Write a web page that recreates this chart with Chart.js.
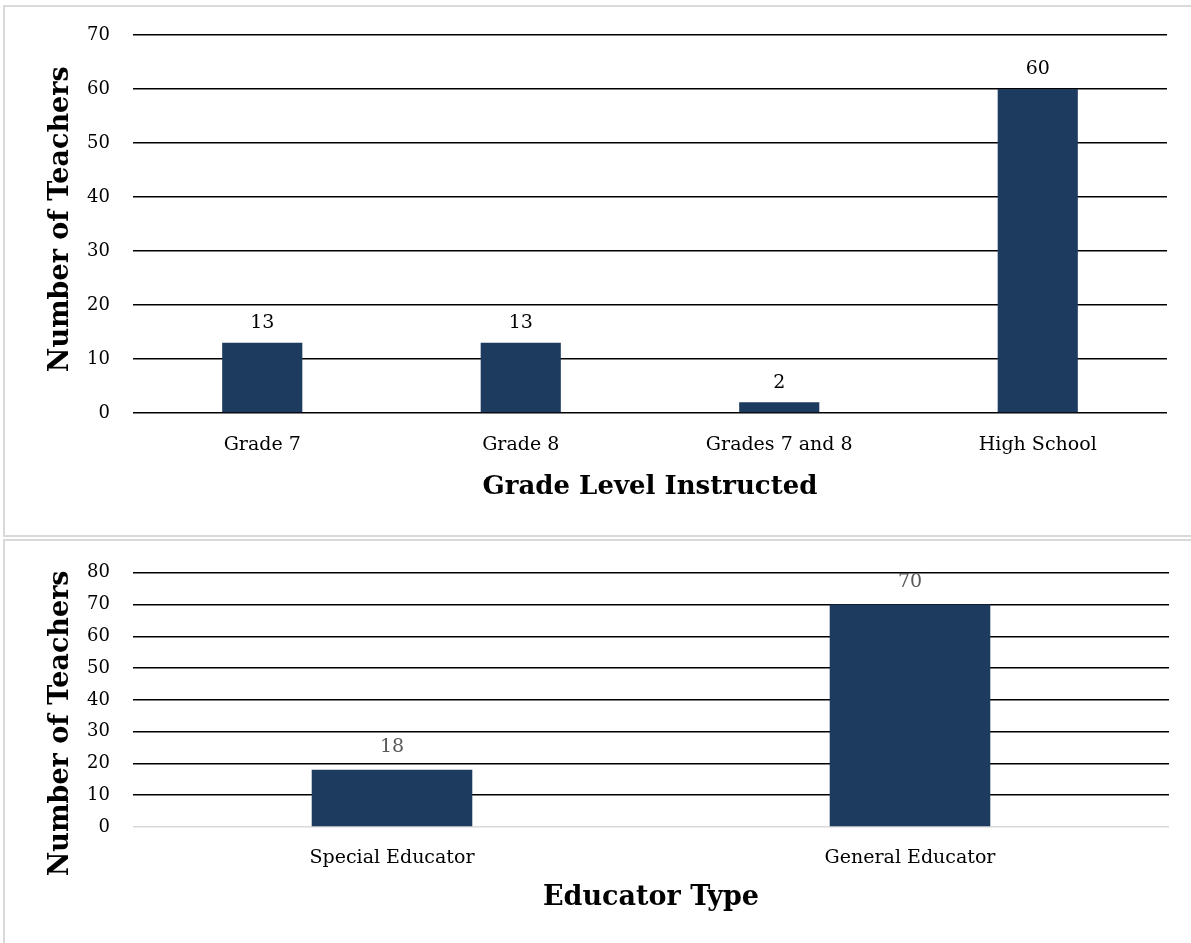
<!DOCTYPE html>
<html>
<head>
<meta charset="utf-8">
<script src="https://cdn.jsdelivr.net/npm/chart.js@4.4.1/dist/chart.umd.min.js"></script>
<style>
  body { margin: 0; background: #fff; width: 1191px; height: 943px; overflow: hidden; position: relative; }
  .panel { position: absolute; border: 2px solid #d9d9d9; box-sizing: border-box; }
  canvas { position: absolute; left: 0; }
</style>
</head>
<body>
<div class="panel" style="left:3px; top:5px; width:1200px; height:532px;"></div>
<div class="panel" style="left:3px; top:539px; width:1200px; height:420px;"></div>
<canvas id="gradeChart" width="1191" height="537" style="top:0"></canvas>
<canvas id="typeChart" width="1191" height="404" style="top:539px"></canvas>
<script>
// data
const gradeLabels = ["Grade 7", "Grade 8", "Grades 7 and 8", "High School"];
const gradeCounts = [13, 13, 2, 60];
const typeLabels = ["Special Educator", "General Educator"];
const typeCounts = [18, 70];

const FONT = "'DejaVu Serif', 'Liberation Serif', serif";
const BAR = "#1d3a5f";

// draws the value above each bar
const barValues = {
  id: "barValues",
  afterDatasetsDraw(chart, args, opts) {
    const ctx = chart.ctx;
    const meta = chart.getDatasetMeta(0);
    const values = chart.data.datasets[0].data;
    ctx.save();
    ctx.font = opts.size + "px " + FONT;
    ctx.fillStyle = opts.color;
    ctx.textAlign = "center";
    ctx.textBaseline = "bottom";
    meta.data.forEach((bar, i) => {
      ctx.fillText(String(values[i]), bar.x, bar.y - opts.gap);
    });
    ctx.restore();
  },
};

function makeChart(id, labels, values, cfg) {
  return new Chart(document.getElementById(id), {
    type: "bar",
    data: {
      labels: labels,
      datasets: [{ data: values, backgroundColor: BAR, barPercentage: 0.62, categoryPercentage: 0.5 }],
    },
    plugins: [barValues],
    options: {
      responsive: false,
      animation: false,
      layout: { padding: { top: cfg.top, right: cfg.right, left: 0, bottom: 0 } },
      plugins: {
        legend: { display: false },
        tooltip: { enabled: false },
        barValues: { size: cfg.valueSize, color: cfg.valueColor, gap: cfg.valueGap },
      },
      scales: {
        x: {
          grid: { display: false, drawTicks: false },
          border: { display: false },
          ticks: { color: "#000", font: { family: FONT, size: 19 }, padding: cfg.xTickPad, maxRotation: 0 },
          title: { display: true, text: cfg.xTitle, color: "#000", font: { family: FONT, size: cfg.xTitleSize, weight: "bold" }, padding: { top: 0, bottom: cfg.xTitlePad } },
          afterFit(scale) { scale.height = cfg.xHeight; },
        },
        y: {
          min: 0,
          max: cfg.max,
          ticks: { stepSize: 10, color: "#000", font: { family: FONT, size: 18 }, padding: 23 },
          grid: {
            drawTicks: false,
            lineWidth: 1.5,
            color: (c) => (c.tick && c.tick.value === 0 ? cfg.zeroColor : "#000"),
          },
          border: { display: false },
          // spaces nudge the centred title along the axis like the original
          title: { display: true, text: cfg.yTitle, color: "#000", font: { family: FONT, size: 27, weight: "bold" }, padding: { top: 45, bottom: 0 } },
          afterFit(scale) { scale.width = 133; },
        },
      },
    },
  });
}

makeChart("gradeChart", gradeLabels, gradeCounts, {
  top: 35, right: 24, max: 70, xHeight: 124, xTickPad: 21, xTitlePad: 34, xTitle: "Grade Level Instructed", xTitleSize: 26,
  yTitle: " Number of Teachers",
  zeroColor: "#000", valueSize: 19, valueColor: "#000", valueGap: 10,
});

makeChart("typeChart", typeLabels, typeCounts, {
  top: 30, right: 22, max: 80, xHeight: 116, xTickPad: 20, xTitlePad: 29, xTitle: "Educator Type", xTitleSize: 27,
  yTitle: "Number of Teachers     ",
  zeroColor: "#d9d9d9", valueSize: 19, valueColor: "#595959", valueGap: 13,
});
</script>
</body>
</html>
